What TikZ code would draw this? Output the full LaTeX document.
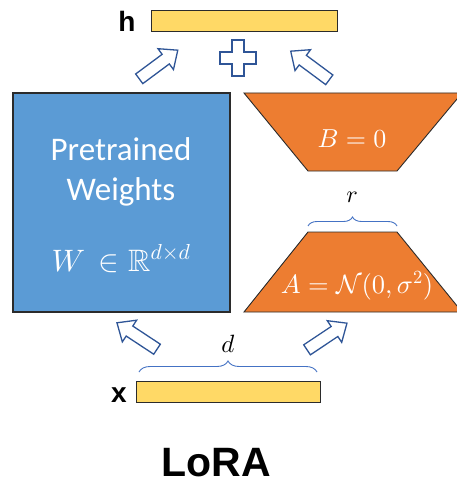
\RequirePackage{fix-cm}
\documentclass[tikz,border=0pt]{standalone}
\usepackage{amssymb}
\usepackage{fontspec}
\setmainfont{Carlito}
\newfontfamily\arialfont{Liberation Sans}
\usetikzlibrary{decorations.pathreplacing}
\DeclareFontShape{OML}{cmm}{m}{it}{<->cmmi10}{}
\DeclareFontShape{OMS}{cmsy}{m}{n}{<->cmsy10}{}
\DeclareFontShape{OT1}{cmr}{m}{n}{<->cmr10}{}
\definecolor{wblue}{HTML}{5B9BD5}
\definecolor{borange}{HTML}{ED7D31}
\definecolor{baryellow}{HTML}{FFD966}
\definecolor{arrblue}{HTML}{2F5597}
\definecolor{brblue}{HTML}{4472C4}
\definecolor{edgegray}{HTML}{2B2B2B}
\tikzset{
  vecbar/.style={draw=edgegray, line width=1pt, fill=baryellow, inner sep=0pt},
  wbox/.style={draw=edgegray, line width=1.1pt, fill=wblue, inner sep=0pt},
  trap/.style={draw=edgegray, line width=0.9pt, fill=borange},
  arrline/.style={draw=arrblue, line width=1.3pt, fill=white, line join=miter},
  brace/.style={draw=brblue, line width=0.9pt, decorate},
  whitetxt/.style={text=white, inner sep=0pt, anchor=base},
  blacktxt/.style={text=black, inner sep=0pt, anchor=base},
  blockarr/.pic={\path[arrline] (-24,-6) -- (9,-6) -- (9,-13) -- (24,0) -- (9,13) -- (9,6) -- (-24,6) -- cycle;}
}
\begin{document}
\begin{tikzpicture}[x=1pt,y=-1pt]
\useasboundingbox[fill=white] (0,0) rectangle (456,484);

% vectors
\node[vecbar, minimum width=186pt, minimum height=21pt] (h) at (244,21.5) {};
\node[blacktxt, font=\arialfont\bfseries\fontsize{28}{30}\selectfont] (hl) at (127,32) {h};
\node[vecbar, minimum width=184pt, minimum height=21pt] (x) at (228,391.5) {};
\node[blacktxt, font=\arialfont\bfseries\fontsize{28}{30}\selectfont] (xl) at (119,402) {x};

% pretrained weights
\node[wbox, minimum width=217pt, minimum height=219pt] (W) at (121.5,202.5) {};
\node[whitetxt, font=\fontsize{33}{40}\selectfont] (t1) at (121,160) {Pretrained};
\node[whitetxt, font=\fontsize{33}{40}\selectfont] (t2) at (121,200) {Weights};
\node[whitetxt, font=\fontsize{31}{38}\selectfont] (t3) at (121,271) {$W\,\in\mathbb{R}^{d\times d}$};

% B and A
\draw[trap] (244,93) -- (462,93) -- (397,171) -- (308,171) -- cycle;
\node[whitetxt, font=\fontsize{26}{30}\selectfont] (Bl) at (352,147) {$B=0$};
\draw[trap] (308,232) -- (397,232) -- (462,312) -- (244,312) -- cycle;
\node[whitetxt, font=\fontsize{26.5}{30}\selectfont] (Al) at (357,293) {$A=\mathcal{N}(0,\sigma^2)$};

% braces
\coordinate (r1) at (308,226);
\coordinate (r2) at (397,226);
\draw[brace, decoration={brace, amplitude=9pt}] (r1) -- (r2);
\node[blacktxt, font=\fontsize{24}{28}\selectfont] (rl) at (352,202) {$r$};
\coordinate (d1) at (139,372);
\coordinate (d2) at (317,372);
\draw[brace, decoration={brace, amplitude=11pt}] (d1) -- (d2);
\node[blacktxt, font=\fontsize{25}{28}\selectfont] (dl) at (228,352) {$d$};

% plus sign
\path[arrline] (232,40) -- (244,40) -- (244,52) -- (256,52) -- (256,64) -- (244,64) -- (244,76) -- (232,76) -- (232,64) -- (220,64) -- (220,52) -- (232,52) -- cycle;

% block arrows
\pic[rotate=36.6] at (158.5,64.5) {blockarr};
\pic[rotate=143.4] at (310,65.5) {blockarr};
\pic[rotate=146.6] at (137,336) {blockarr};
\pic[rotate=33.7] at (327,336.5) {blockarr};

% title
\node[blacktxt, font=\arialfont\bfseries\fontsize{41}{45}\selectfont] (title) at (216,476) {LoRA};
\end{tikzpicture}
\end{document}
